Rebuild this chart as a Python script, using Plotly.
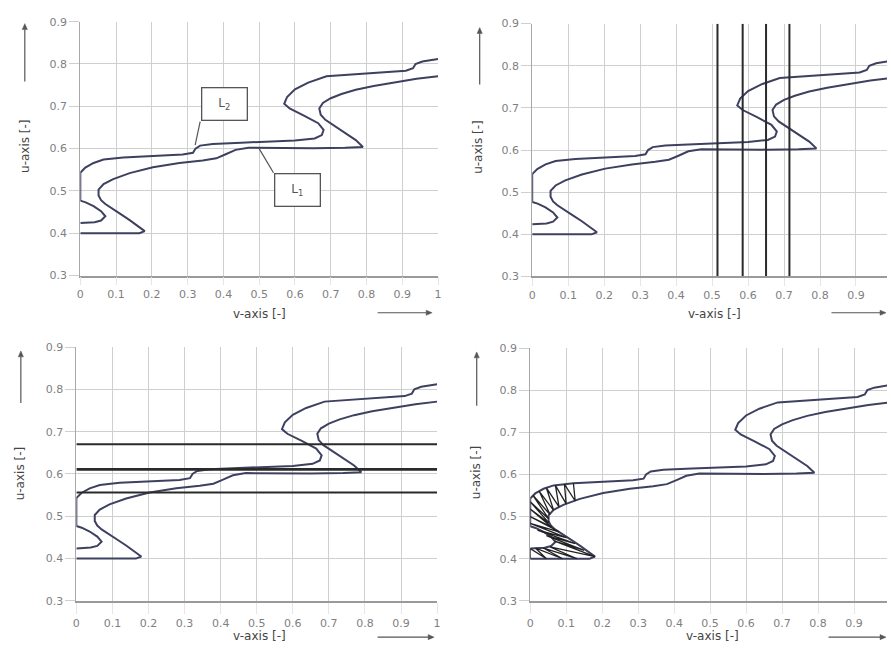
import plotly.graph_objects as go

W, H = 891, 651

# ---------------- data ----------------
v_ticks = [0, 0.1, 0.2, 0.3, 0.4, 0.5, 0.6, 0.7, 0.8, 0.9, 1.0]
v_tick_labels = ["0", "0.1", "0.2", "0.3", "0.4", "0.5", "0.6", "0.7", "0.8", "0.9", "1"]
u_ticks = [0.3, 0.4, 0.5, 0.6, 0.7, 0.8, 0.9]
u_tick_labels = ["0.3", "0.4", "0.5", "0.6", "0.7", "0.8", "0.9"]

L1_v = [0.000, 0.165, 0.180, 0.160, 0.138, 0.115, 0.092, 0.070, 0.058, 0.051, 0.051, 0.065,
        0.092, 0.138, 0.203, 0.277, 0.342, 0.380, 0.405, 0.434, 0.470, 0.550, 0.650, 0.740,
        0.790, 0.770, 0.740, 0.710, 0.685, 0.672, 0.668, 0.678, 0.700, 0.730, 0.770, 0.820,
        0.880, 0.940, 1.000]
L1_u = [0.400, 0.400, 0.405, 0.418, 0.431, 0.444, 0.457, 0.469, 0.478, 0.489, 0.503, 0.516,
        0.528, 0.542, 0.556, 0.566, 0.572, 0.577, 0.586, 0.597, 0.602, 0.601, 0.601, 0.602,
        0.604, 0.620, 0.637, 0.655, 0.668, 0.680, 0.695, 0.708, 0.719, 0.729, 0.739, 0.748,
        0.757, 0.765, 0.771]

L2_v = [0.000, 0.040, 0.058, 0.070, 0.058, 0.037, 0.015, 0.000, 0.000, 0.014, 0.037, 0.065,
        0.120, 0.203, 0.286, 0.315, 0.322, 0.335, 0.370, 0.450, 0.530, 0.600, 0.655, 0.675,
        0.680, 0.665, 0.625, 0.585, 0.570, 0.578, 0.600, 0.637, 0.688, 0.757, 0.850, 0.910,
        0.930, 0.937, 0.956, 1.000]
L2_u = [0.424, 0.426, 0.430, 0.440, 0.452, 0.464, 0.473, 0.477, 0.543, 0.555, 0.566, 0.574,
        0.579, 0.582, 0.586, 0.590, 0.600, 0.607, 0.611, 0.614, 0.617, 0.619, 0.624, 0.632,
        0.644, 0.660, 0.678, 0.695, 0.706, 0.722, 0.740, 0.756, 0.771, 0.775, 0.779, 0.784,
        0.790, 0.800, 0.806, 0.812]

cut_v = [0.515, 0.585, 0.650, 0.715]      # vertical lines, top-right panel
cut_u = [0.556, 0.611, 0.670]             # horizontal lines, bottom-left panel
cut_u_width = [2, 2.8, 2]

mesh_inner_v = [0.120, 0.095, 0.070, 0.045, 0.025, 0.008, 0.000, 0.000, 0.000, 0.000,
                0.020, 0.045, 0.068, 0.055, 0.035, 0.015, 0.000]
mesh_inner_u = [0.579, 0.577, 0.574, 0.568, 0.560, 0.550, 0.535, 0.518, 0.500, 0.484,
                0.468, 0.455, 0.442, 0.428, 0.426, 0.425, 0.424]
mesh_outer_v = [0.125, 0.100, 0.080, 0.065, 0.055, 0.051, 0.052, 0.060, 0.080, 0.100,
                0.125, 0.150, 0.180, 0.130, 0.090, 0.045, 0.000]
mesh_outer_u = [0.537, 0.530, 0.523, 0.515, 0.505, 0.495, 0.485, 0.475, 0.464, 0.450,
                0.436, 0.420, 0.405, 0.400, 0.400, 0.400, 0.400]

label_text = ["L<sub>2</sub>", "L<sub>1</sub>"]
label_box_v = [0.402, 0.607]
label_box_u = [0.705, 0.502]
leader_start_v = [0.335, 0.540]
leader_start_u = [0.664, 0.543]
leader_end_v = [0.321, 0.499]
leader_end_u = [0.608, 0.601]

# ---------------- layout (pixels) ----------------
panels = [
    dict(x0=77, x1=438, y0=16, y1=275, xmax=1.0,
         xt=(258, 314), xa=(377, 432, 313), yt=(21, 143), ya=(21, 77, 18)),
    dict(x0=533, x1=891, y0=18, y1=276, xmax=(891 - 533) / 363.0,
         xt=(717, 314), xa=(835, 890, 313), yt=(478, 144), ya=(480, 80, 22)),
    dict(x0=73, x1=437, y0=348, y1=607, xmax=1.0,
         xt=(258, 643), xa=(377, 434, 644), yt=(17, 477), ya=(17, 405, 352)),
    dict(x0=531, x1=891, y0=349, y1=607, xmax=(891 - 531) / 363.0,
         xt=(715, 643), xa=(832, 890, 644), yt=(477, 476), ya=(477, 408, 353)),
]

def px(x):
    return x / W

def py(y):
    return 1 - y / H

CURVE = "#3e4060"
GRID = "#cfcfcf"
TICKC = "#7f7f7f"
FONT = "DejaVu Sans"
ARROWC = "#555555"

fig = go.Figure()
annotations = []
shapes = []
layout = dict(
    width=W, height=H, margin=dict(l=0, r=0, t=0, b=0),
    paper_bgcolor="white", plot_bgcolor="white", showlegend=False,
)

def add_arrow(x0, y0, x1, y1):
    """thin line with small filled head, pixel coords tail (x0,y0) -> head (x1,y1)"""
    L = ((x1 - x0) ** 2 + (y1 - y0) ** 2) ** 0.5
    ux, uy = (x1 - x0) / L, (y1 - y0) / L
    hl, hw = 6, 2.6
    bx, by = x1 - ux * hl, y1 - uy * hl
    shapes.append(dict(type="line", xref="paper", yref="paper",
                       x0=px(x0), y0=py(y0), x1=px(bx), y1=py(by),
                       line=dict(color=ARROWC, width=1.2)))
    p1 = (bx - uy * hw, by + ux * hw)
    p2 = (bx + uy * hw, by - ux * hw)
    path = "M {} {} L {} {} L {} {} Z".format(px(x1), py(y1), px(p1[0]), py(p1[1]),
                                             px(p2[0]), py(p2[1]))
    shapes.append(dict(type="path", xref="paper", yref="paper", path=path,
                       fillcolor=ARROWC, line=dict(color=ARROWC, width=0.5)))

for i, p in enumerate(panels, start=1):
    xs = "" if i == 1 else str(i)
    xa_name, ya_name = "xaxis" + xs, "yaxis" + xs
    xr, yr = "x" + xs, "y" + xs
    tv = [t for t in v_ticks if t <= p["xmax"] + 1e-9]
    tt = [lab for t, lab in zip(v_ticks, v_tick_labels) if t <= p["xmax"] + 1e-9]
    bottom_row = i >= 3
    layout[xa_name] = dict(
        domain=[px(p["x0"]), min(1.0, px(p["x1"]))], anchor=yr,
        range=[0, p["xmax"]], tickvals=tv, ticktext=tt,
        showgrid=True, gridcolor=GRID, gridwidth=1, zeroline=False,
        showline=True, linecolor="#9a9a9a", linewidth=1.5,
        ticks="outside", ticklen=11 if bottom_row else 8, tickcolor="#e6e6e6",
        tickfont=dict(family=FONT, size=11, color=TICKC), fixedrange=True,
    )
    layout[ya_name] = dict(
        domain=[py(p["y1"]), py(p["y0"])], anchor=xr,
        range=[0.3, 0.9], tickvals=u_ticks, ticktext=u_tick_labels,
        showgrid=True, gridcolor=GRID, gridwidth=1, zeroline=False,
        showline=True, linecolor="#a8a8a8", linewidth=1,
        ticks="outside", ticklen=10, tickcolor=GRID,
        tickfont=dict(family=FONT, size=11, color=TICKC), fixedrange=True,
    )

    # curves
    for cv, cu in ((L1_v, L1_u), (L2_v, L2_u)):
        fig.add_trace(go.Scatter(x=cv, y=cu, mode="lines", xaxis=xr, yaxis=yr,
                                 line=dict(color=CURVE, width=2), hoverinfo="skip"))

    # axis titles and arrows
    annotations.append(dict(text="v-axis [-]", x=px(p["xt"][0]), y=py(p["xt"][1]),
                            xref="paper", yref="paper", showarrow=False,
                            xanchor="center", yanchor="middle",
                            font=dict(family=FONT, size=12, color="#444444")))
    annotations.append(dict(text="u-axis [-]", x=px(p["yt"][0]), y=py(p["yt"][1]),
                            xref="paper", yref="paper", showarrow=False, textangle=-90,
                            xanchor="center", yanchor="middle",
                            font=dict(family=FONT, size=12, color="#444444")))
    add_arrow(p["xa"][0], p["xa"][2], p["xa"][1], p["xa"][2])
    add_arrow(p["ya"][0], p["ya"][1], p["ya"][0], p["ya"][2])

    if i == 1:
        for k in range(len(label_text)):
            fig.add_trace(go.Scatter(x=[leader_start_v[k], leader_end_v[k]],
                                     y=[leader_start_u[k], leader_end_u[k]],
                                     mode="lines", xaxis=xr, yaxis=yr,
                                     line=dict(color="#555", width=1.2), hoverinfo="skip"))
            annotations.append(dict(text=label_text[k], x=label_box_v[k], y=label_box_u[k],
                                    xref=xr, yref=yr, showarrow=False,
                                    width=44, height=31, borderpad=0, borderwidth=1.3,
                                    bordercolor="#555", bgcolor="white",
                                    font=dict(family=FONT, size=12, color="#555")))
    if i == 2:
        for cv in cut_v:
            fig.add_trace(go.Scatter(x=[cv, cv], y=[0.3, 0.9], mode="lines",
                                     xaxis=xr, yaxis=yr,
                                     line=dict(color="#2a2a2a", width=2), hoverinfo="skip"))
    if i == 3:
        for cu, wd in zip(cut_u, cut_u_width):
            fig.add_trace(go.Scatter(x=[0, 1], y=[cu, cu], mode="lines",
                                     xaxis=xr, yaxis=yr,
                                     line=dict(color="#2a2a2a", width=wd), hoverinfo="skip"))
    if i == 4:
        zz_v, zz_u = [], []
        for a, b, c, d in zip(mesh_inner_v, mesh_inner_u, mesh_outer_v, mesh_outer_u):
            zz_v += [a, c]
            zz_u += [b, d]
        fig.add_trace(go.Scatter(x=zz_v, y=zz_u, mode="lines", xaxis=xr, yaxis=yr,
                                 line=dict(color="#222", width=1.3), hoverinfo="skip"))

layout["annotations"] = annotations
layout["shapes"] = shapes
fig.update_layout(**layout)
fig.write_html("out.html")
